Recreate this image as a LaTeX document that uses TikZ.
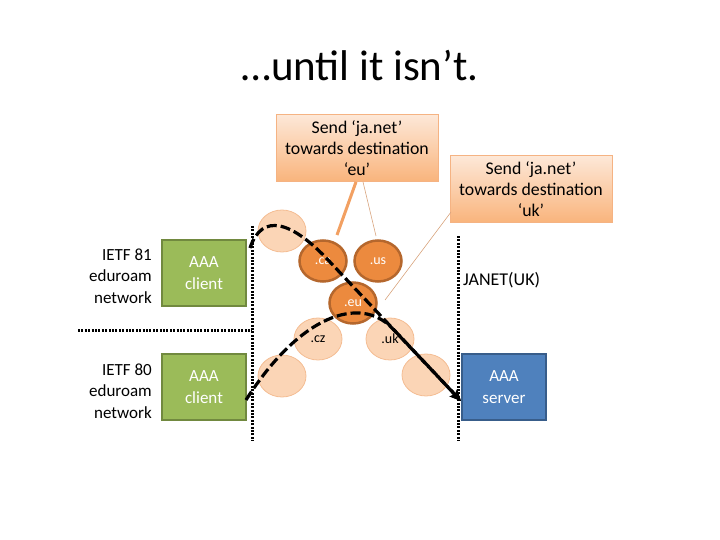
\documentclass[tikz,border=0pt]{standalone}
\usepackage{fontspec}
\setmainfont{Carlito}
\usetikzlibrary{arrows.meta}
\usetikzlibrary{shapes.geometric}
\definecolor{calltop}{HTML}{FDE8D8}
\definecolor{callbot}{HTML}{F9B47C}
\definecolor{callline}{HTML}{F5B383}
\definecolor{peerfill}{HTML}{FBD5B6}
\definecolor{peerline}{HTML}{F4BD93}
\definecolor{tldfill}{HTML}{EC8A3E}
\definecolor{tldline}{HTML}{B5672D}
\definecolor{clientfill}{HTML}{9BBB59}
\definecolor{clientline}{HTML}{71893F}
\definecolor{serverfill}{HTML}{4F81BD}
\definecolor{serverline}{HTML}{385D8A}
\definecolor{pointer}{HTML}{F2A062}
\definecolor{thinpointer}{HTML}{D8A47E}

\begin{document}
\begin{tikzpicture}[x=1pt,y=-1pt,
  callout/.style={draw=callline, line width=0.8pt, top color=calltop, bottom color=callbot,
    minimum width=162pt, minimum height=67pt, align=center, inner sep=0pt,
    font=\fontsize{17.8}{21}\selectfont},
  peer/.style={ellipse, draw=peerline, fill=peerfill, line width=0.8pt,
    minimum width=48pt, minimum height=42pt, inner sep=0pt, font=\fontsize{14}{15}\selectfont},
  tld/.style={ellipse, draw=tldline, fill=tldfill, line width=2.5pt, text=white,
    minimum width=47pt, minimum height=41pt, inner sep=0pt, font=\fontsize{14}{15}\selectfont},
  box/.style={minimum width=84pt, minimum height=66pt, line width=2.5pt, text=white,
    align=center, inner sep=0pt, font=\fontsize{17}{21.5}\selectfont},
  client/.style={box, draw=clientline, fill=clientfill},
  server/.style={box, draw=serverline, fill=serverfill},
  netlabel/.style={align=right, anchor=east, inner sep=0pt, font=\fontsize{17}{21.5}\selectfont},
  border/.style={line width=3pt, dash pattern=on 2pt off 1.4pt},
  route/.style={line width=3.2pt, dash pattern=on 10pt off 4pt,
    -{Stealth[length=11pt,width=10pt,inset=2pt]}}
]
\useasboundingbox (0,0) rectangle (720,540);

% title
\node (title) at (360,66) {\fontsize{43}{46}\selectfont …until it isn’t.};

% networks on the left
\node[netlabel] (n81) at (152,276) {IETF 81\\eduroam\\network};
\node[netlabel] (n80) at (152,391) {IETF 80\\eduroam\\network};
\node[client] (c81) at (204,273) {AAA\\client};
\node[client] (c80) at (204,387) {AAA\\client};

% borders
\coordinate (lt) at (252,226);
\coordinate (lb) at (252,441);
\coordinate (rt) at (458,236);
\coordinate (rb) at (458,441);
\coordinate (hl) at (78,330);
\coordinate (hr) at (252,330);
\draw[border] (lt) -- (lb);
\draw[border] (rt) -- (rb);
\draw[border] (hl) -- (hr);

% the right side
\node[anchor=west, inner sep=0pt, font=\fontsize{18}{21.5}\selectfont] (janet) at (463,280) {JANET(UK)};
\node[server] (srv) at (504,387) {AAA\\server};

% proxies
\node[peer] (tl) at (282,231) {};
\node[peer] (bl) at (282,376) {};
\node[peer] (br) at (426,375) {};
\node[peer] (cz) at (318,339) {.cz};
\node[peer] (uk) at (390,339) {.uk};
\node[tld] (ca) at (323,261) {.ca};
\node[tld] (us) at (378,261) {.us};
\node[tld] (eu) at (353,303) {.eu};

% callouts
\node[callout] (calleu) at (357,148) {Send ‘ja.net’\\towards destination\\‘eu’};
\node[callout] (calluk) at (531,189) {Send ‘ja.net’\\towards destination\\‘uk’};
\coordinate (catip) at (337,235);
\coordinate (ustip) at (376,236);
\coordinate (eutip) at (385,300);
\coordinate (ukfoot) at (451,212);
\draw[pointer, line width=3pt] ([xshift=-1pt]calleu.south) -- (catip);
\draw[thinpointer, line width=0.6pt] ([xshift=6pt]calleu.south) -- (ustip);
\draw[thinpointer, line width=0.6pt] (ukfoot) -- (eutip);

% routes
\coordinate (s81) at (250,248);
\coordinate (s80) at (246,400);
\coordinate (tip) at (461,401);
\draw[route] (s81) .. controls (262,212) and (292,221) .. (330,262) -- (tip);
\draw[route] (s80) .. controls (300,315) and (360,295) .. (392,328) -- (tip);
\end{tikzpicture}
\end{document}
